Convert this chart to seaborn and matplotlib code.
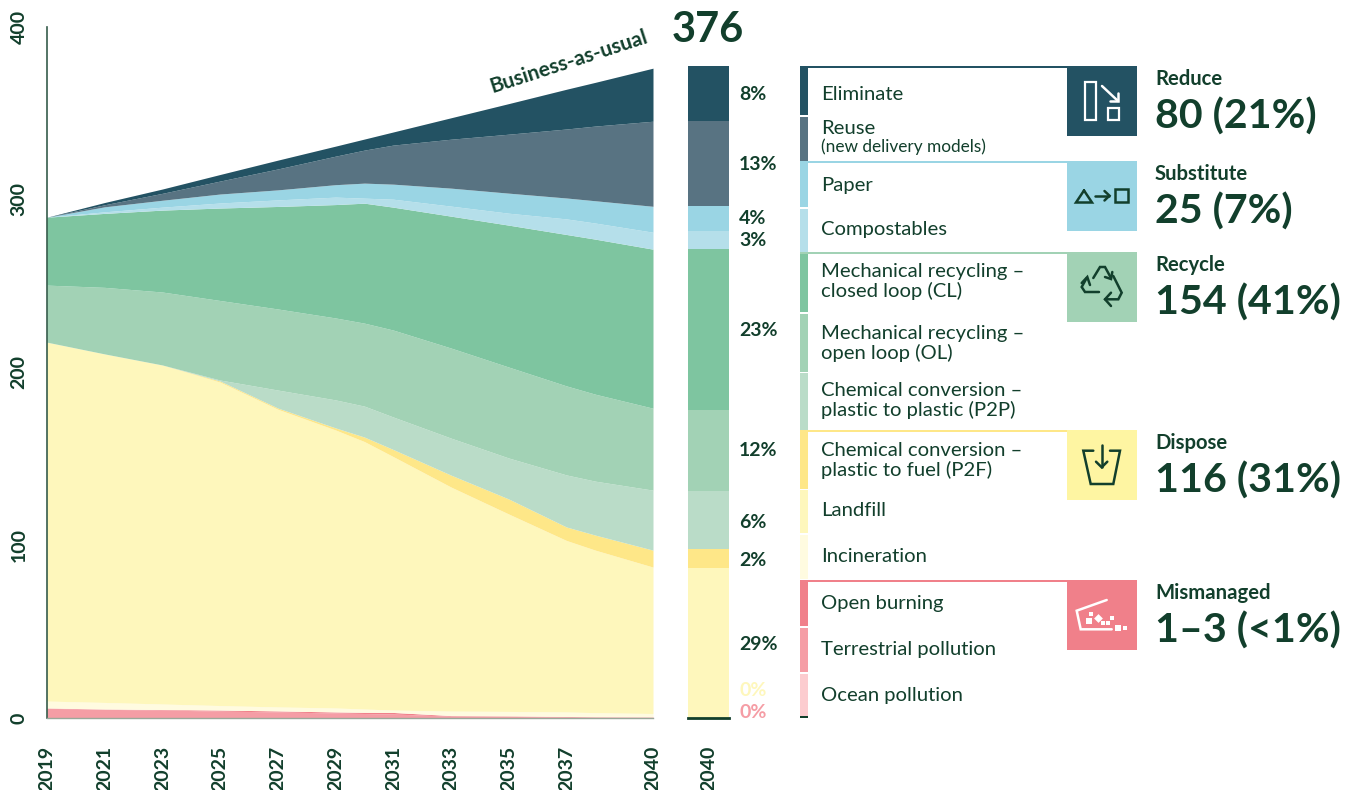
import pandas as pd
import seaborn as sns
import matplotlib.pyplot as plt
from matplotlib.patches import Rectangle

years = [2019, 2021, 2023, 2025, 2027, 2029, 2030, 2031, 2033, 2035, 2037, 2038, 2040]
year_ticks = [2019, 2021, 2023, 2025, 2027, 2029, 2031, 2033, 2035, 2037, 2040]
y_ticks = [0, 100, 200, 300, 400]

# stacked from the bottom up, million tonnes
ocean = [0.1, 0.1, 0.1, 0.1, 0.1, 0.1, 0.1, 0.1, 0.1, 0.1, 0.1, 0.1, 0.1]
terrestrial = [5.5, 4.9, 4.5, 3.9, 3.4, 2.8, 2.5, 2.2, 1.0, 0.8, 0.5, 0.3, 0.2]
open_burning = [0.2, 0.2, 0.3, 0.6, 0.6, 0.6, 0.7, 0.9, 0.3, 0.3, 0.3, 0.3, 0.3]
incineration = [4.0, 3.8, 3.2, 2.6, 2.3, 2.3, 1.9, 1.4, 2.6, 2.6, 2.6, 2.4, 2.0]
landfill = [207.6, 201.6, 196.1, 187.1, 172.2, 160.8, 154.7, 146.6, 129.6, 114.2, 99.2, 94.0, 84.7]
p2f = [0, 0, 0, 0.6, 0.7, 1.2, 2.6, 4.1, 6.9, 8.7, 7.8, 8.7, 9.8]
p2p = [0, 0, 0, 0.6, 10.4, 16.2, 17.9, 18.8, 21.4, 23.7, 30.1, 31.2, 34.7]
mech_ol = [33.0, 38.5, 42.2, 46.0, 46.9, 47.4, 48.0, 50.3, 52.1, 52.6, 51.5, 50.3, 47.4]
mech_cl = [39.3, 42.8, 47.4, 53.5, 59.3, 65.6, 69.4, 71.1, 76.3, 82.1, 87.6, 89.7, 92.0]
compostables = [0, 0.9, 1.7, 2.9, 3.8, 4.3, 2.9, 4.6, 5.8, 6.9, 9.0, 9.3, 9.8]
paper = [0, 2.9, 4.0, 5.2, 5.8, 7.2, 8.7, 8.7, 10.4, 11.6, 12.1, 12.9, 15.0]
reuse = [0, 1.2, 4.0, 7.5, 12.1, 16.5, 19.1, 22.6, 28.3, 34.1, 39.9, 43.2, 49.2]
eliminate = [0, 1.3, 2.5, 3.8, 5.1, 5.8, 6.4, 7.6, 12.4, 17.7, 23.0, 25.3, 30.7]

# the separate 2040 column
bar_names = ['Landfill', 'P2F', 'P2P', 'OL', 'CL', 'Compostables', 'Paper', 'Reuse', 'Eliminate']
bar_values = [86.8, 11.0, 33.5, 46.8, 93.1, 10.4, 14.5, 49.2, 31.8]
bar_pcts = ['29%', '2%', '6%', '12%', '23%', '3%', '4%', '13%', '8%']

legend_names = ['Eliminate', 'Paper', 'Compostables', 'Mechanical recycling –\nclosed loop (CL)',
                'Mechanical recycling –\nopen loop (OL)', 'Chemical conversion –\nplastic to plastic (P2P)',
                'Chemical conversion –\nplastic to fuel (P2F)', 'Landfill', 'Incineration',
                'Open burning', 'Terrestrial pollution', 'Ocean pollution']
group_names = ['Reduce', 'Substitute', 'Recycle', 'Dispose', 'Mismanaged']
group_totals = ['80 (21%)', '25 (7%)', '154 (41%)', '116 (31%)', '1–3 (<1%)']

DARK = '#123F2C'
colors = {'ocean': '#FCCCCF', 'terrestrial': '#F59DA5', 'open_burning': '#F0808A',
          'incineration': '#FFFBE0', 'landfill': '#FEF7BC', 'p2f': '#FEE788', 'p2p': '#BADCC8',
          'ol': '#A2D2B5', 'cl': '#7EC5A0', 'compostables': '#B5DFEA', 'paper': '#9AD5E4',
          'reuse': '#587382', 'eliminate': '#235263'}

sns.set_theme(style='white')
plt.rcParams['font.family'] = ['Lato', 'DejaVu Sans']

W, H = 1348, 790
fig = plt.figure(figsize=(W / 100, H / 100), dpi=100)

def px_axes(x0, x1, y0, y1):
    return fig.add_axes([x0 / W, 1 - y1 / H, (x1 - x0) / W, (y1 - y0) / H])

# main area chart
ax = px_axes(47, 653, 26.5, 718)
df = pd.DataFrame({'ocean': ocean, 'terrestrial': terrestrial, 'open_burning': open_burning,
                   'incineration': incineration, 'landfill': landfill, 'p2f': p2f, 'p2p': p2p,
                   'ol': mech_ol, 'cl': mech_cl, 'compostables': compostables, 'paper': paper,
                   'reuse': reuse, 'eliminate': eliminate}, index=years)
ax.stackplot(df.index, df.T.values, colors=[colors[c] for c in df.columns], linewidth=0)
ax.set_xlim(2019, 2040)
ax.set_ylim(0, 400)
ax.set_xticks(year_ticks)
ax.set_yticks(y_ticks)
ax.tick_params(axis='x', length=0, pad=20)
ax.tick_params(axis='y', length=0, pad=14)
for lab in ax.get_xticklabels():
    lab.set(rotation=90, fontsize=14, fontweight='bold', color=DARK, ha='center', va='top')
for lab in ax.get_yticklabels():
    lab.set(rotation=90, fontsize=14, fontweight='bold', color=DARK, ha='right', va='center')
sns.despine(ax=ax, top=True, right=True)
ax.spines['left'].set(color=DARK, linewidth=1.2, alpha=0.85)
ax.spines['bottom'].set(color='#9AA89A', linewidth=1)
ax.set_xlabel('')
ax.set_ylabel('')

# 2040 column, tallest first so each shorter one sits on top
bar_ax = px_axes(688, 729, 26.5, 718)
bar_colors = [colors[c] for c in ['landfill', 'p2f', 'p2p', 'ol', 'cl', 'compostables', 'paper', 'reuse', 'eliminate']]
tops = pd.Series(bar_values, index=bar_names).cumsum()
for name, col in reversed(list(zip(bar_names, bar_colors))):
    sns.barplot(x=['2040'], y=[tops[name]], color=col, saturation=1, width=1, ax=bar_ax, linewidth=0)
bar_ax.set_ylim(0, 400)
bar_ax.set_xlim(-0.5, 0.5)
bar_ax.set_yticks([])
bar_ax.tick_params(axis='x', length=0, pad=20)
for lab in bar_ax.get_xticklabels():
    lab.set(rotation=90, fontsize=14, fontweight='bold', color=DARK, ha='center', va='top')
sns.despine(ax=bar_ax, top=True, right=True, left=True)
bar_ax.spines['bottom'].set(color=DARK, linewidth=2)
bar_ax.set_xlabel('')
bar_ax.set_ylabel('')

# everything else sits on a pixel overlay
ov = fig.add_axes([0, 0, 1, 1], facecolor='none')
ov.set_xlim(0, W)
ov.set_ylim(H, 0)
ov.axis('off')

ov.text(569, 62, 'Business-as-usual', rotation=18, fontsize=15, fontweight='bold', color=DARK,
        ha='center', va='center', rotation_mode='anchor')
ov.text(708, 30, '376', fontsize=30, fontweight='bold', color=DARK, ha='center', va='center')

# percent labels next to the column
pct_y = [644, 560, 523, 450, 331, 241, 219, 165, 95]
for y, p in zip(pct_y, bar_pcts):
    ov.text(739, y, p, fontsize=14, fontweight='bold', color=DARK, va='center')
ov.text(739, 691, '0%', fontsize=14, color=colors['landfill'], va='center', fontweight='bold')
ov.text(739, 712, '0%', fontsize=14, color=colors['terrestrial'], va='center', fontweight='bold')

# legend swatches
swatches = [(66, 115, 'eliminate'), (117, 161, 'reuse'), (161, 207, 'paper'), (209, 252, 'compostables'),
            (252, 312, 'cl'), (314, 372, 'ol'), (373, 430, 'p2p'), (430, 489, 'p2f'), (490, 533, 'landfill'),
            (535, 579, 'incineration'), (580, 626, 'open_burning'), (628, 672, 'terrestrial'), (674, 716, 'ocean')]
for y0, y1, c in swatches:
    ov.add_patch(Rectangle((800, y0), 8, y1 - y0, color=colors[c], lw=0))
ov.add_patch(Rectangle((800, 716), 8, 2, color=DARK, lw=0))

for y, c in [(66, 'eliminate'), (161, 'paper'), (252, 'ol'), (430, 'p2f'), (580, 'open_burning')]:
    ov.add_patch(Rectangle((800, y), 267, 2, color=colors[c], lw=0))

label_y = [95, 186, 230, 281.5, 343.5, 400.5, 460.5, 511, 557, 604, 649, 696]
for y, name in zip(label_y, legend_names):
    ov.text(821, y, name, fontsize=14.6, color=DARK, va='center', linespacing=1.17)
ov.text(821, 129, 'Reuse', fontsize=14.6, color=DARK, va='center')
ov.text(821, 146.5, '(new delivery models)', fontsize=12.4, color=DARK, va='center')

# group boxes and totals
box_y = [66, 161, 252, 430, 580]
box_c = [colors['eliminate'], colors['paper'], colors['ol'], '#FEF5A2', colors['open_burning']]
for y, c, name, total in zip(box_y, box_c, group_names, group_totals):
    ov.add_patch(Rectangle((1067, y), 70, 70, color=c, lw=0))
    ov.text(1155, y + 13, name, fontsize=14.6, fontweight='bold', color=DARK, va='center')
    ov.text(1155, y + 50.5, total, fontsize=29.6, fontweight='bold', color=DARK, va='center')

def stroke(pts, col=DARK, lw=1.8):
    ov.plot([p[0] for p in pts], [p[1] for p in pts], color=col, lw=lw,
            solid_capstyle='round', solid_joinstyle='miter')

# reduce icon
for rect in [(1084.5, 82, 11.5, 37.5), (1108, 108, 11, 11.5)]:
    ov.add_patch(Rectangle(rect[:2], rect[2], rect[3], fill=False, ec='white', lw=1.6))
stroke([(1102, 86), (1118, 101)], 'white')
stroke([(1110, 101), (1118, 101), (1118, 93)], 'white')

# substitute icon
stroke([(1084, 190.5), (1092, 202.5), (1076, 202.5), (1084, 190.5)])
stroke([(1094.5, 195.7), (1109, 195.7)])
stroke([(1104.5, 191), (1109.5, 195.7), (1104.5, 200.5)])
ov.add_patch(Rectangle((1115, 189), 13, 13, fill=False, ec=DARK, lw=1.8))

# recycle icon
stroke([(1093.3, 278), (1100, 267), (1105, 267), (1111, 278)])
stroke([(1105, 277), (1111, 279), (1112.3, 272)])
stroke([(1099, 292), (1085, 292), (1081.7, 287), (1086.7, 278)])
stroke([(1081.7, 283), (1087.3, 277), (1090, 285)])
stroke([(1113.3, 276), (1121.7, 292.7), (1118.3, 299.3), (1105, 299.3)])
stroke([(1111, 292.7), (1105, 299.3), (1111, 306)])

# dispose icon
stroke([(1093.3, 450.7), (1083.3, 450.7), (1090.7, 484), (1113.3, 484), (1120, 450.7), (1110, 450.7)])
stroke([(1101.7, 445), (1101.7, 466.7)])
stroke([(1096, 461.7), (1101.7, 467.3), (1107.3, 461.7)])

# mismanaged icon
stroke([(1106.7, 600), (1076.7, 610.7), (1080.7, 629.3), (1111.7, 629.3)], 'white')
ov.scatter([1089, 1118], [621.3, 627.5], marker='s', s=22, color='white', lw=0)
ov.scatter([1097.7], [618], marker='D', s=20, color='white', lw=0)
ov.scatter([1090.7, 1102.7, 1108.3, 1111.7, 1125], [614.3, 622.7, 622.7, 618.3, 627.7], marker='s', s=8,
           color='white', lw=0)

fig.savefig('out.png', dpi=100)
